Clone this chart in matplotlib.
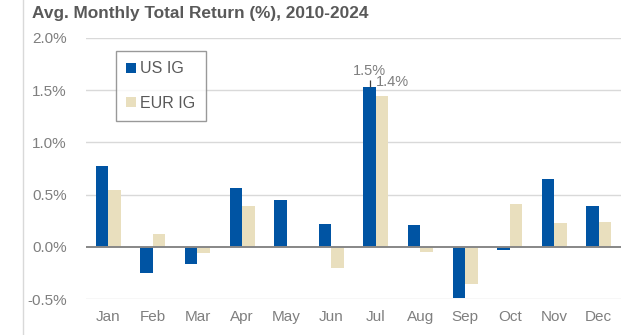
import numpy as np
import matplotlib
matplotlib.use('Agg')
import matplotlib.pyplot as plt
from matplotlib.ticker import FuncFormatter

months = ['Jan', 'Feb', 'Mar', 'Apr', 'May', 'Jun',
          'Jul', 'Aug', 'Sep', 'Oct', 'Nov', 'Dec']
us_ig = [0.77, -0.25, -0.16, 0.56, 0.45, 0.22,
         1.53, 0.21, -0.49, -0.03, 0.65, 0.39]
eur_ig = [0.54, 0.12, -0.06, 0.39, 0.01, -0.20,
          1.44, -0.05, -0.35, 0.41, 0.23, 0.24]
yticks = [-0.5, 0.0, 0.5, 1.0, 1.5, 2.0]

blue = '#0054A3'
beige = '#E9DFBE'
grey_txt = '#7F7F7F'

plt.rcParams['font.family'] = ['Liberation Sans', 'DejaVu Sans']

fig = plt.figure(figsize=(6.39, 3.35), dpi=100)
ax = fig.add_axes([0.1346, 0.1066, 0.8374, 0.7809])

x = np.arange(len(months))
w = 0.28
ax.bar(x - w / 2, us_ig, w, color=blue, label='US IG', zorder=3)
ax.bar(x + w / 2, eur_ig, w, color=beige, label='EUR IG', zorder=3)

ax.set_xlim(-0.5, len(months) - 0.5)
ax.set_ylim(-0.5, 2.0)
ax.set_yticks(yticks)
ax.yaxis.set_major_formatter(FuncFormatter(lambda v, p: '%.1f%%' % v))
ax.set_xticks(x)
ax.set_xticklabels(months)
ax.tick_params(axis='both', length=0, labelsize=11, colors=grey_txt)
ax.tick_params(axis='y', pad=14)
ax.tick_params(axis='x', pad=8)
for t in ax.get_xticklabels() + ax.get_yticklabels():
    t.set_color(grey_txt)

for v in yticks:
    if v != 0:
        ax.axhline(v, color='#D9D9D9', lw=1.0, zorder=1)
ax.axhline(0, color='#878787', lw=1.4, zorder=4)
for s in ax.spines.values():
    s.set_visible(False)

# labels on the July bars, with a short leader on the US bar
jul = months.index('Jul')
ax.vlines(jul - w / 2, us_ig[jul], us_ig[jul] + 0.07, color='#404040',
          lw=0.9, zorder=5)
ax.text(jul - w / 2, us_ig[jul] + 0.15, '%.1f%%' % us_ig[jul],
        ha='center', va='center', fontsize=10.5, color=grey_txt)
ax.text(jul + 0.37, eur_ig[jul] + 0.14, '%.1f%%' % eur_ig[jul],
        ha='center', va='center', fontsize=10.5, color=grey_txt)

leg = ax.legend(loc='upper left', bbox_to_anchor=(0.056, 0.949), fontsize=11.5,
                frameon=True, fancybox=False, handlelength=0.6, handleheight=0.6,
                handletextpad=0.25, labelspacing=1.2, borderpad=0.65,
                borderaxespad=0)
leg.get_frame().set_edgecolor('#808080')
leg.get_frame().set_linewidth(1.0)
for t in leg.get_texts():
    t.set_color('#595959')

fig.text(0.05, 0.96, 'Avg. Monthly Total Return (%), 2010-2024',
         fontsize=12.4, fontweight='bold', color='#595959', va='center')
fig.add_artist(plt.Line2D([23 / 639, 23 / 639], [0, 1],
                          color='#D9D9D9', lw=1.0))

fig.savefig('out.png', dpi=100)
